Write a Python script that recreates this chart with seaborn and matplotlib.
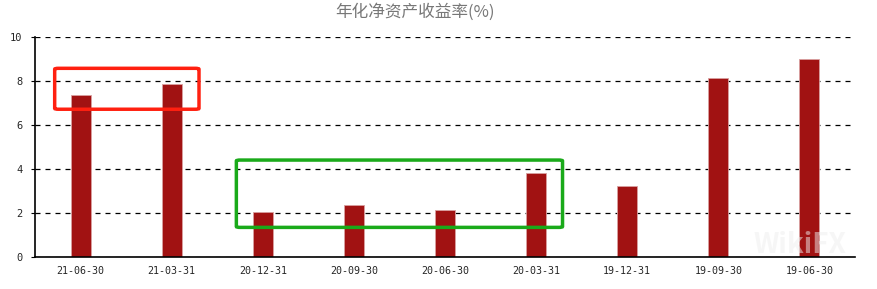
import matplotlib
matplotlib.use("Agg")
import matplotlib.pyplot as plt
import seaborn as sns
import pandas as pd
from matplotlib.patches import FancyBboxPatch

categories = ["21-06-30", "21-03-31", "20-12-31", "20-09-30", "20-06-30",
              "20-03-31", "19-12-31", "19-09-30", "19-06-30"]
roe = [7.39, 7.86, 2.07, 2.38, 2.16, 3.85, 3.25, 8.15, 9.00]
yticks = [0, 2, 4, 6, 8, 10]
title = "年化净资产收益率(%)"

sns.set_theme(style="white")
plt.rcParams['font.family'] = ['Noto Sans CJK SC', 'DejaVu Sans']

df = pd.DataFrame({"date": categories, "roe": roe})

fig = plt.figure(figsize=(8.78, 2.89), dpi=100)
ax = fig.add_axes([35/878, (289-257.3)/289, 820/878, 220/289])

sns.barplot(data=df, x="date", y="roe", order=categories, color="#a11212",
            width=0.22, saturation=1, ax=ax, edgecolor="#d9a0a0", linewidth=0.6)

ax.set_ylim(0, 10)
ax.set_xlim(-0.5, len(categories) - 0.5)
ax.set_yticks(yticks)
ax.set_yticklabels([str(t) for t in yticks], fontsize=7.5, family="DejaVu Sans Mono")
ax.set_xticks(range(len(categories)))
ax.set_xticklabels(categories, fontsize=7.2, family="DejaVu Sans Mono")
ax.set_xlabel("")
ax.set_ylabel("")
ax.tick_params(axis="y", length=3, width=0.8, color="black", pad=6, left=True)
ax.tick_params(axis="x", length=0, pad=6)
ax.yaxis.grid(True, linestyle=(0, (4, 4)), color="black", linewidth=0.9)
ax.xaxis.grid(False)
ax.set_axisbelow(True)
for s in ["top", "right"]:
    ax.spines[s].set_visible(False)
for s in ["left", "bottom"]:
    ax.spines[s].set_color("black")
    ax.spines[s].set_linewidth(1.2)

fig.text(415/878, 1 - 12/289, title, ha="center", va="center", fontsize=12,
         color="#777777")

# highlight boxes
red = FancyBboxPatch((-0.284, 6.73), 1.584, 1.86,
                     boxstyle="round,pad=0,rounding_size=0.04",
                     fill=False, edgecolor="#ff2010", linewidth=2.5,
                     zorder=5, clip_on=False)
green = FancyBboxPatch((1.71, 1.36), 3.58, 3.06,
                       boxstyle="round,pad=0,rounding_size=0.04",
                       fill=False, edgecolor="#1aaa1a", linewidth=2.5,
                       zorder=5, clip_on=False)
ax.add_patch(red)
ax.add_patch(green)

fig.text(800/878, 1 - 245/289, "WikiFX", ha="center", va="center",
         fontsize=20, fontweight="bold", color="#eeeeee", alpha=0.5, zorder=10)

fig.savefig("out.png", dpi=100)
